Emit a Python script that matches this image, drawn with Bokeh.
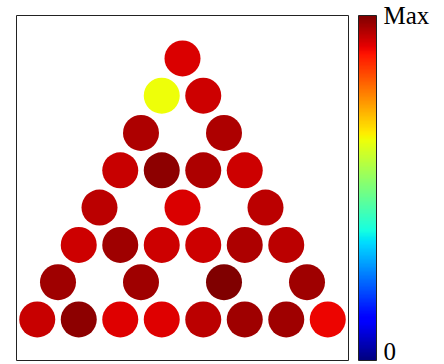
from bokeh.plotting import figure
from bokeh.models import ColumnDataSource, LinearColorMapper, ColorBar, FixedTicker, Range1d
from bokeh.embed import file_html
from bokeh.resources import INLINE

# Data: triangular grid of nodes (row from top, position in row) and their values
rows = [0, 1, 1, 2, 2, 3, 3, 3, 3, 4, 4, 4,
        5, 5, 5, 5, 5, 5, 6, 6, 6, 6, 7, 7, 7, 7, 7, 7, 7, 7]
cols = [0, 0, 1, 0, 2, 0, 1, 2, 3, 0, 2, 4,
        0, 1, 2, 3, 4, 5, 0, 2, 4, 6, 0, 1, 2, 3, 4, 5, 6, 7]
values = [0.919,
          0.640, 0.930,
          0.958, 0.958,
          0.934, 0.986, 0.958, 0.930,
          0.948, 0.919, 0.948,
          0.930, 0.972, 0.930, 0.930, 0.958, 0.948,
          0.972, 0.972, 1.000, 0.972,
          0.934, 0.986, 0.917, 0.917, 0.948, 0.972, 0.972, 0.905]
cbar_ticks = [0, 1]
cbar_labels = ["0", "Max"]


def jet(v):
    def interp(pts, t):
        for (x0, y0), (x1, y1) in zip(pts[:-1], pts[1:]):
            if x0 <= t <= x1:
                return y0 + (y1 - y0) * (t - x0) / (x1 - x0) if x1 > x0 else y1
        return pts[-1][1]
    r = interp([(0, 0), (0.35, 0), (0.66, 1), (0.89, 1), (1, 0.5)], v)
    g = interp([(0, 0), (0.125, 0), (0.375, 1), (0.64, 1), (0.91, 0), (1, 0)], v)
    b = interp([(0, 0.5), (0.11, 1), (0.34, 1), (0.65, 0), (1, 0)], v)
    return "#%02x%02x%02x" % (round(r * 255), round(g * 255), round(b * 255))


palette = [jet(i / 255) for i in range(256)]

xs = [c - r / 2 for r, c in zip(rows, cols)]
ys = [7 - r for r in rows]
src = ColumnDataSource(dict(x=xs, y=ys, v=values))

mapper = LinearColorMapper(palette=palette, low=0, high=1)

p = figure(frame_width=332, frame_height=345, output_backend="svg", toolbar_location=None,
           x_range=Range1d(-4, 4), y_range=Range1d(-1.10, 8.15),
           x_axis_location=None, y_axis_location=None,
           min_border_left=16, min_border_top=15, min_border_bottom=4, min_border_right=0)
p.grid.visible = False
p.outline_line_color = "#222222"
p.outline_line_width = 1
p.background_fill_color = "white"
p.border_fill_color = "white"

p.scatter("x", "y", source=src, size=36, line_color=None,
          fill_color={"field": "v", "transform": mapper})

cb = ColorBar(color_mapper=mapper, width=18, height=345, padding=0, margin=0,
              location=(10, 0),
              ticker=FixedTicker(ticks=cbar_ticks),
              major_label_overrides={t: l for t, l in zip(cbar_ticks, cbar_labels)},
              major_label_text_font="Liberation Serif",
              major_label_text_font_size="25px",
              major_label_text_color="black",
              label_standoff=7,
              major_tick_line_color=None, minor_tick_line_color=None,
              bar_line_color="#222222", bar_line_width=1,
              border_line_color=None, background_fill_color=None)
p.add_layout(cb, "right")

open("out.html", "w").write(file_html(p, INLINE))
